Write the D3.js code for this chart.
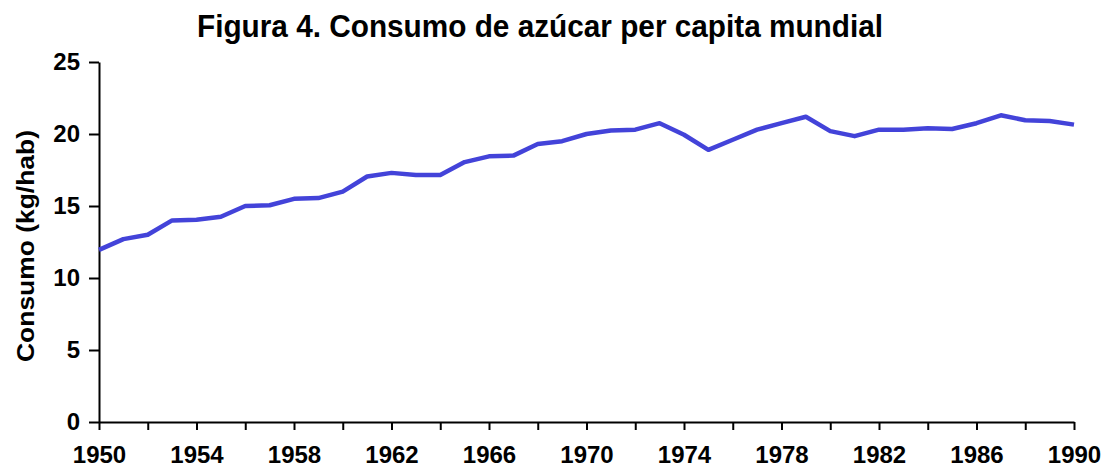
<!DOCTYPE html>
<html>
<head>
<meta charset="utf-8">
<script src="https://d3js.org/d3.v7.min.js"></script>
<style>
  body { margin: 0; background: #fff; }
  svg { display: block; }
</style>
</head>
<body>
<div id="chart"></div>
<script>
// datos
var years = [1950,1951,1952,1953,1954,1955,1956,1957,1958,1959,
             1960,1961,1962,1963,1964,1965,1966,1967,1968,1969,
             1970,1971,1972,1973,1974,1975,1976,1977,1978,1979,
             1980,1981,1982,1983,1984,1985,1986,1987,1988,1989,1990]
var consumo = [11.95,12.7,13.0,14.0,14.05,14.25,15.0,15.05,15.5,15.55,
               16.0,17.05,17.3,17.15,17.15,18.05,18.45,18.5,19.3,19.5,
               20.0,20.25,20.3,20.75,19.95,18.9,19.6,20.3,20.75,21.2,
               20.2,19.85,20.3,20.3,20.4,20.35,20.75,21.3,20.95,20.9,20.65]
var yTicks = [0,5,10,15,20,25]
var xTicks = d3.range(1950, 1991, 2)
var xLabels = [1950,1954,1958,1962,1966,1970,1974,1978,1982,1986,1990]
var titulo = 'Figura 4. Consumo de azúcar per capita mundial'
var yTitulo = 'Consumo (kg/hab)'

var W = 1102, H = 467
var margin = {left: 99, right: 28, top: 62, bottom: 45}

var svg = d3.select('#chart').append('svg')
    .attr('width', W)
    .attr('height', H)

var x = d3.scaleLinear()
    .domain([1950, 1990])
    .range([margin.left, W - margin.right])
var y = d3.scaleLinear()
    .domain([0, 25])
    .range([H - margin.bottom, margin.top])

// eje x
var xaxis = d3.axisBottom(x)
    .tickValues(xTicks)
    .tickSize(8)
    .tickSizeOuter(0)
    .tickPadding(16)
    .tickFormat(function(d){ return xLabels.includes(d) ? d : '' })
var gx = svg.append('g')
    .attr('transform', `translate(0,${y(0)})`)
    .call(xaxis)
gx.select('.domain').attr('stroke', '#000').attr('stroke-width', 2)
gx.selectAll('.tick line').attr('stroke', '#000').attr('stroke-width', 2)
gx.selectAll('.tick text')
    .attr('fill', '#000')
    .style('font-family', '"Liberation Sans", Arial, sans-serif')
    .style('font-weight', 'bold')
    .style('font-size', '24px')

// eje y
var yaxis = d3.axisLeft(y)
    .tickValues(yTicks)
    .tickSize(10)
    .tickSizeOuter(0)
    .tickPadding(9)
var gy = svg.append('g')
    .attr('transform', `translate(${x(1950)},0)`)
    .call(yaxis)
gy.select('.domain').attr('stroke', '#000').attr('stroke-width', 2)
gy.selectAll('.tick line').attr('stroke', '#000').attr('stroke-width', 2)
gy.selectAll('.tick text')
    .attr('fill', '#000')
    .style('font-family', '"Liberation Sans", Arial, sans-serif')
    .style('font-weight', 'bold')
    .style('font-size', '24px')

// linea
var line = d3.line()
    .x(function(d, i){ return x(years[i]) })
    .y(function(d){ return y(d) })
svg.append('path')
    .datum(consumo)
    .attr('fill', 'none')
    .attr('stroke', '#4343d9')
    .attr('stroke-width', 4.5)
    .attr('stroke-linejoin', 'round')
    .attr('d', line)

// titulos
svg.append('text')
    .attr('x', 540)
    .attr('y', 37)
    .attr('text-anchor', 'middle')
    .attr('textLength', 686)
    .attr('lengthAdjust', 'spacingAndGlyphs')
    .style('font-family', '"Liberation Sans Narrow", "Liberation Sans", Arial, sans-serif')
    .style('font-weight', 'bold')
    .style('font-size', '32px')
    .text(titulo)

svg.append('text')
    .attr('transform', 'translate(34,246) rotate(-90)')
    .attr('text-anchor', 'middle')
    .attr('textLength', 232)
    .attr('lengthAdjust', 'spacingAndGlyphs')
    .style('font-family', '"Liberation Sans", Arial, sans-serif')
    .style('font-weight', 'bold')
    .style('font-size', '23px')
    .text(yTitulo)
</script>
</body>
</html>
